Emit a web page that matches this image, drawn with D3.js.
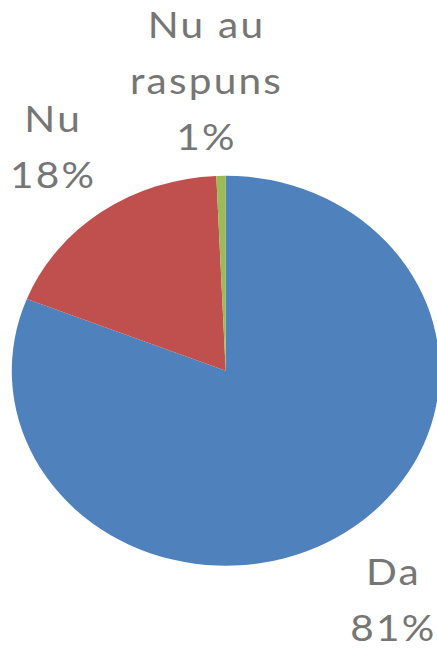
<!DOCTYPE html>
<html>
  <head>
  <title>Pie</title>
  <style>
    body, html {
      margin: 0;
      padding: 0;
      background: #fff;
    }
  </style>
  </head>
  <body>

  <svg id="svg" width="437" height="649"></svg>

  <script src="https://d3js.org/d3.v7.min.js"></script>
  <script>
    // values (share of answers, %)
    const categories = ['Da', 'Nu', 'Nu au raspuns']
    const values = [81, 18.3, 0.7]
    const labelLines = [['Da'], ['Nu'], ['Nu au', 'raspuns']]
    const colors = ['#4F81BD', '#C0504D', '#9BBB59']

    const cx = 225.7
    const cy = 370.7
    const radius = 195
    const stretch = 1.097   // the original picture is stretched horizontally
    const fontSize = 37
    const lineH = 56
    const capH = 27
    const labelR = 240
    // small hand nudges, like excel moves its labels around
    const labelNudge = [[-1.5, -4], [0, 5], [-12.5, 19.5]]

    const data = categories.map((c, i) => ({ name: c, value: values[i], lines: labelLines[i], i: i }))
    const total = d3.sum(values)
    const pct = d3.format('.0%')

    const pie = d3.pie().sort(null).value(d => d.value)
    const arc = d3.arc().innerRadius(0).outerRadius(radius)
    const color = d3.scaleOrdinal().domain(categories).range(colors)

    const svg = d3.select('#svg')
    const g = svg.append('g')
      .attr('transform', `translate(${cx}, ${cy}) scale(${stretch}, 1)`)

    const arcs = pie(data)

    g.selectAll('path')
      .data(arcs)
      .enter()
      .append('path')
      .attr('d', arc)
      .attr('fill', d => color(d.data.name))

    const labels = g.selectAll('text.label')
      .data(arcs)
      .enter()
      .append('text')
      .attr('class', 'label')
      .attr('text-anchor', 'middle')
      .attr('font-family', 'Lato, "Open Sans", sans-serif')
      .attr('font-size', fontSize)
      .attr('letter-spacing', 2)
      .attr('fill', '#767676')

    labels.each(function (d) {
      const lines = d.data.lines.concat([pct(d.data.value / total)])
      const mid = (d.startAngle + d.endAngle) / 2
      const sx = Math.sin(mid)
      const sy = -Math.cos(mid)
      // block size in unstretched units
      const hw = 36 / stretch
      const hh = ((lines.length - 1) * lineH + capH) / 2
      const nudge = labelNudge[d.data.i]
      const bx = (labelR + hw) * sx + nudge[0] + 1
      const by = (labelR + hh) * sy + nudge[1]
      const firstBase = by - hh + capH
      const t = d3.select(this)
      lines.forEach((line, i) => {
        t.append('tspan')
          .attr('x', bx)
          .attr('y', firstBase + i * lineH)
          .text(line)
      })
    })
  </script>
  </body>
</html>
